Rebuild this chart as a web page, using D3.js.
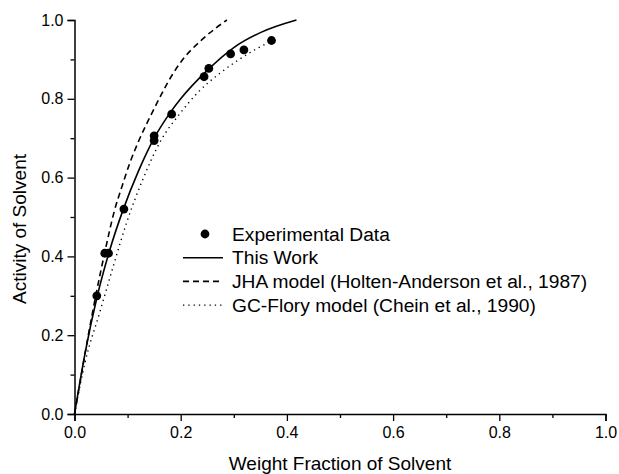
<!DOCTYPE html>
<html>
<head>
<meta charset="utf-8">
<script src="https://cdn.jsdelivr.net/npm/d3@7"></script>
<style>
  html, body { margin: 0; padding: 0; background: #fff; }
  svg { display: block; }
  text { font-family: "Liberation Sans", Arial, Helvetica, sans-serif; fill: #000; }
</style>
</head>
<body>
<svg id="chart" width="619" height="474"></svg>
<script>
// Measured solvent activity vs. weight fraction of solvent
const expX = [0.042, 0.057, 0.064, 0.093, 0.150, 0.150, 0.183, 0.244, 0.253, 0.294, 0.319, 0.371];
const expY = [0.300, 0.408, 0.408, 0.520, 0.706, 0.694, 0.761, 0.856, 0.877, 0.914, 0.924, 0.948];

// Model curves (sampled)
const workX = [0, 0.020, 0.043, 0.065, 0.092, 0.120, 0.150, 0.183, 0.200, 0.250, 0.300, 0.350, 0.418];
const workY = [0, 0.155, 0.300, 0.410, 0.520, 0.615, 0.700, 0.770, 0.800, 0.872, 0.930, 0.968, 1.000];

const jhaX = [0, 0.013, 0.026, 0.040, 0.057, 0.075, 0.090, 0.105, 0.120, 0.150, 0.186, 0.200, 0.240, 0.287];
const jhaY = [0, 0.100, 0.200, 0.300, 0.410, 0.515, 0.580, 0.640, 0.690, 0.775, 0.865, 0.893, 0.950, 1.000];

const gcX = [0, 0.020, 0.048, 0.073, 0.098, 0.127, 0.161, 0.200, 0.233, 0.274, 0.308, 0.343, 0.376];
const gcY = [0, 0.132, 0.260, 0.375, 0.485, 0.590, 0.690, 0.765, 0.817, 0.865, 0.898, 0.927, 0.950];

const majorTicks = [0, 0.2, 0.4, 0.6, 0.8, 1.0];
const minorTicks = [0.1, 0.3, 0.5, 0.7, 0.9];
const tickLabels = ["0.0", "0.2", "0.4", "0.6", "0.8", "1.0"];

const legendLabels = [
  "Experimental Data",
  "This Work",
  "JHA model (Holten-Anderson et al., 1987)",
  "GC-Flory model (Chein et al., 1990)"
];

const xTitle = "Weight Fraction of Solvent";
const yTitle = "Activity of Solvent";

const svg = d3.select("#chart");

const x = d3.scaleLinear().domain([0, 1]).range([74.5, 605.5]);
const y = d3.scaleLinear().domain([0, 1]).range([414, 20]);

// Axes: major ticks with labels, then unlabeled minor ticks
const xAxis = d3.axisBottom(x).tickValues(majorTicks)
  .tickFormat((d, i) => tickLabels[i]).tickSize(7).tickPadding(6);
const xMinor = d3.axisBottom(x).tickValues(minorTicks).tickFormat("").tickSize(4);
const yAxis = d3.axisLeft(y).tickValues(majorTicks)
  .tickFormat((d, i) => tickLabels[i]).tickSize(7).tickPadding(4);
const yMinor = d3.axisLeft(y).tickValues(minorTicks).tickFormat("").tickSize(4);

function styleAxis(g) {
  g.select(".domain").attr("stroke", "#000").attr("stroke-width", 1.5);
  g.selectAll(".tick line").attr("stroke", "#000").attr("stroke-width", 1.3);
  g.selectAll(".tick text")
    .attr("font-family", "'Liberation Sans', Arial, Helvetica, sans-serif")
    .attr("font-size", 16).attr("fill", "#000");
}

svg.append("g").attr("transform", "translate(0,414)").call(xAxis).call(styleAxis);
svg.append("g").attr("transform", "translate(0,414)").call(xMinor).call(styleAxis)
  .select(".domain").remove();
svg.append("g").attr("transform", "translate(74.5,0)").call(yAxis).call(styleAxis);
svg.append("g").attr("transform", "translate(74.5,0)").call(yMinor).call(styleAxis)
  .select(".domain").remove();

// Axis titles
svg.append("text")
  .attr("x", 340).attr("y", 470)
  .attr("text-anchor", "middle")
  .attr("font-size", 19)
  .text(xTitle);

svg.append("text")
  .attr("transform", "translate(25.5,229) rotate(-90)")
  .attr("text-anchor", "middle")
  .attr("font-size", 19)
  .text(yTitle);

// Model curves
const line = d3.line()
  .x(d => x(d[0]))
  .y(d => y(d[1]))
  .curve(d3.curveMonotoneX);

const curves = [
  { xs: workX, ys: workY, dash: null, width: 1.6 },
  { xs: jhaX, ys: jhaY, dash: "6,4", width: 1.6 },
  { xs: gcX, ys: gcY, dash: "1.3,4", width: 1.4 }
];

curves.forEach(c => {
  svg.append("path")
    .datum(c.xs.map((v, i) => [v, c.ys[i]]))
    .attr("d", line)
    .attr("fill", "none")
    .attr("stroke", "#000")
    .attr("stroke-width", c.width)
    .attr("stroke-dasharray", c.dash);
});

// Experimental points
svg.append("g").selectAll("circle")
  .data(expX.map((v, i) => [v, expY[i]]))
  .join("circle")
  .attr("cx", d => x(d[0]))
  .attr("cy", d => y(d[1]))
  .attr("r", 4.4)
  .attr("fill", "#000");

// Legend
const legend = svg.append("g");
const rowY = [234, 257.7, 281.4, 305.1];
const lx0 = 183, lx1 = 223, textX = 232;

legend.append("circle")
  .attr("cx", (lx0 + lx1) / 2 + 2).attr("cy", rowY[0]).attr("r", 4.4).attr("fill", "#000");

curves.forEach((c, i) => {
  legend.append("line")
    .attr("x1", lx0).attr("x2", lx1)
    .attr("y1", rowY[i + 1]).attr("y2", rowY[i + 1])
    .attr("stroke", "#000")
    .attr("stroke-width", c.width)
    .attr("stroke-dasharray", c.dash);
});

legend.selectAll("text")
  .data(legendLabels)
  .join("text")
  .attr("x", textX)
  .attr("y", (d, i) => rowY[i])
  .attr("dy", "0.35em")
  .attr("font-size", 19.2)
  .text(d => d);
</script>
</body>
</html>
